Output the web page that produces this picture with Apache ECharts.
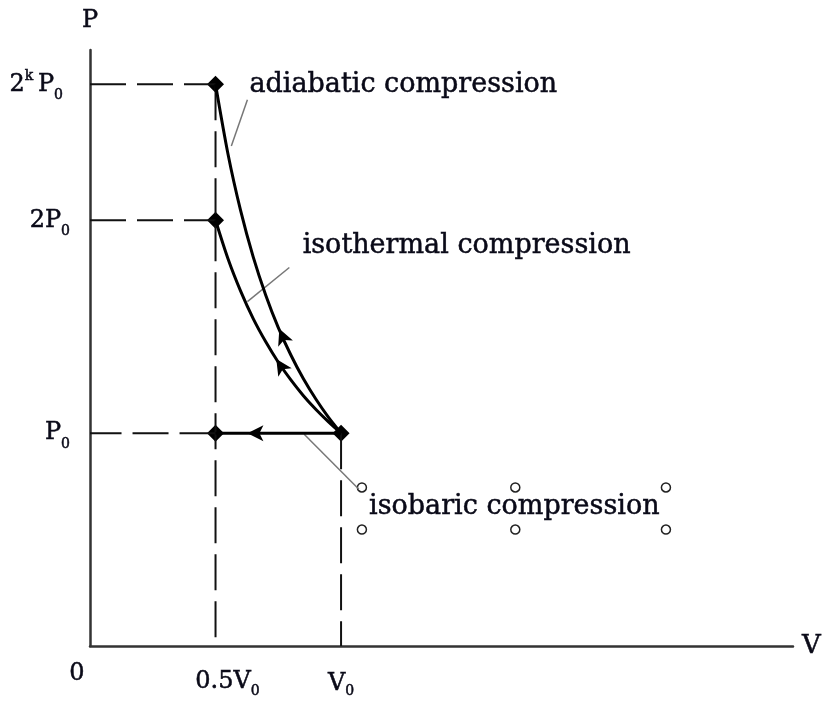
<!DOCTYPE html>
<html>
<head>
<meta charset="utf-8">
<script src="https://cdn.jsdelivr.net/npm/echarts@6/dist/echarts.min.js"></script>
<style>html,body{margin:0;padding:0;background:#fff;}#c{width:824px;height:704px;}</style>
</head>
<body>
<div id="c"></div>
<script>
// ---- data (V in units of V0, P in units of P0) ----
const vTicks = [0, 0.5, 1];
const vTickLabels = ['{z|0}', '{h|0.5V}{sub|0}', '{v|V}{sub|0}'];
const pTicks = [1, 2, 2.639];
const pTickLabels = ['P{sub|0}', '2P{sub|0}', '2{sup|k}\u2009P{subk|0}'];

const isothermV = [0.5, 0.55, 0.6, 0.65, 0.7, 0.75, 0.8, 0.85, 0.9, 0.95, 1.0];
const isothermP = [2.0, 1.818, 1.667, 1.538, 1.429, 1.333, 1.25, 1.176, 1.111, 1.053, 1.0];
const adiabatV = [0.5, 0.55, 0.6, 0.65, 0.7, 0.75, 0.8, 0.85, 0.9, 0.95, 1.0];
const adiabatP = [2.639, 2.309, 2.045, 1.828, 1.648, 1.496, 1.367, 1.255, 1.159, 1.074, 1.0];
const isobarV = [1.0, 0.5];
const isobarP = [1.0, 1.0];

const stateV = [0.5, 0.5, 0.5, 1.0];
const stateP = [2.639, 2.0, 1.0, 1.0];

const arrowV = [0.754, 0.742, 0.627];
const arrowP = [1.49, 1.348, 1.0];
const arrowRot = [23, 33, 90];

const noteNames = ['adiabatic compression', 'isothermal compression', 'isobaric compression'];
const noteV = [1.248, 1.5, 1.69];
const noteP = [2.635, 1.878, 0.651];

const leaderFrom = [[0.627, 2.566], [0.794, 1.778], [0.853, 0.995]];
const leaderTo = [[0.563, 2.349], [0.627, 1.618], [1.071, 0.736]];

const handleV = [1.083, 1.694, 2.294, 1.083, 1.694, 2.294];
const handleP = [0.745, 0.745, 0.745, 0.547, 0.547, 0.547];

// guide lines (from start to end)
const guides = [
  [[0, 2.639], [0.5, 2.639]],
  [[0, 2], [0.5, 2]],
  [[0.5, 1], [0, 1]],
  [[0.5, 2.639], [0.5, 0]],
  [[1, 1], [1, 0]]
];

const zip = (a, b) => a.map((v, i) => [v, b[i]]);
const FONT = 'DejaVu Serif';
const TXT = '#0a0a18';
const thick = { textBorderColor: TXT, textBorderWidth: 0.5 };
const rich = {
  sub: Object.assign({ fontFamily: FONT, fontSize: 14, padding: [22, 0, 0, 0], color: TXT }, thick),
  subk: Object.assign({ fontFamily: FONT, fontSize: 14, padding: [22, 7, 0, 0], color: TXT }, thick),
  sup: Object.assign({ fontFamily: FONT, fontSize: 14, padding: [0, 0, 16, 0], color: TXT }, thick),
  z: Object.assign({ fontFamily: FONT, fontSize: 24, padding: [0, 26, 0, 0], color: TXT }, thick),
  h: Object.assign({ fontFamily: FONT, fontSize: 24, padding: [4, 0, 0, 24], color: TXT }, thick),
  v: Object.assign({ fontFamily: FONT, fontSize: 24, padding: [8, 0, 0, 0], color: TXT }, thick)
};

const series = [];
guides.forEach(g => series.push({
  type: 'line', data: g, symbol: 'none', silent: true,
  lineStyle: { color: '#111', width: 2, type: [36, 11] }
}));
leaderFrom.forEach((f, i) => series.push({
  type: 'line', data: [f, leaderTo[i]], symbol: 'none', silent: true,
  lineStyle: { color: '#777', width: 1.5 }
}));
series.push({
  type: 'line', data: zip(adiabatV, adiabatP), symbol: 'none', smooth: 0.3,
  lineStyle: { color: '#000', width: 3 }
});
series.push({
  type: 'line', data: zip(isothermV, isothermP), symbol: 'none', smooth: 0.3,
  lineStyle: { color: '#000', width: 3 }
});
series.push({
  type: 'line', data: zip(isobarV, isobarP), symbol: 'none',
  lineStyle: { color: '#000', width: 3 }
});
series.push({
  type: 'scatter', data: zip(arrowV, arrowP).map((d, i) => ({ value: d, symbolRotate: arrowRot[i] })),
  symbol: 'arrow', symbolSize: [12, 16], itemStyle: { color: '#000', opacity: 1 }
});
series.push({
  type: 'scatter', data: zip(stateV, stateP), symbol: 'diamond', symbolSize: 17,
  itemStyle: { color: '#000', opacity: 1 }
});
series.push({
  type: 'scatter', data: zip(handleV, handleP), symbol: 'circle', symbolSize: 9,
  itemStyle: { color: '#fff', borderColor: '#222', borderWidth: 1.5, opacity: 1 }
});
series.push({
  type: 'scatter', symbol: 'circle', symbolSize: 0,
  itemStyle: { color: '#fff', opacity: 1 },
  data: noteNames.map((n, i) => ({ name: n, value: [noteV[i], noteP[i]] })),
  label: Object.assign({ show: true, position: 'inside', formatter: '{b}', fontFamily: FONT, fontSize: 27, color: TXT }, thick)
});

const chart = echarts.init(document.getElementById('c'), null, { renderer: 'canvas' });
chart.setOption({
  backgroundColor: '#fff',
  animation: false,
  grid: { left: 90, right: 27, top: 50, bottom: 58 },
  xAxis: {
    type: 'value', min: 0, max: 2.8,
    name: 'V', nameLocation: 'end', nameGap: 9,
    nameTextStyle: Object.assign({ fontFamily: FONT, fontSize: 26, color: TXT, verticalAlign: 'middle', align: 'left', padding: [4, 0, 0, 0] }, thick),
    axisLine: { lineStyle: { color: '#333', width: 2.5 } },
    axisTick: { show: false },
    splitLine: { show: false },
    axisLabel: Object.assign({
      customValues: vTicks, margin: 16,
      fontFamily: FONT, fontSize: 24, color: TXT,
      formatter: v => vTickLabels[vTicks.indexOf(v)],
      rich: rich
    }, thick)
  },
  yAxis: {
    type: 'value', min: 0, max: 2.8,
    name: 'P', nameLocation: 'end', nameGap: 17,
    nameTextStyle: Object.assign({ fontFamily: FONT, fontSize: 24, color: TXT, align: 'center' }, thick),
    axisLine: { lineStyle: { color: '#333', width: 2.5 } },
    axisTick: { show: false },
    splitLine: { show: false },
    axisLabel: Object.assign({
      customValues: pTicks, margin: 20,
      fontFamily: FONT, fontSize: 24, color: TXT,
      formatter: v => pTickLabels[pTicks.indexOf(v)],
      rich: rich
    }, thick)
  },
  series: series
});
</script>
</body>
</html>
